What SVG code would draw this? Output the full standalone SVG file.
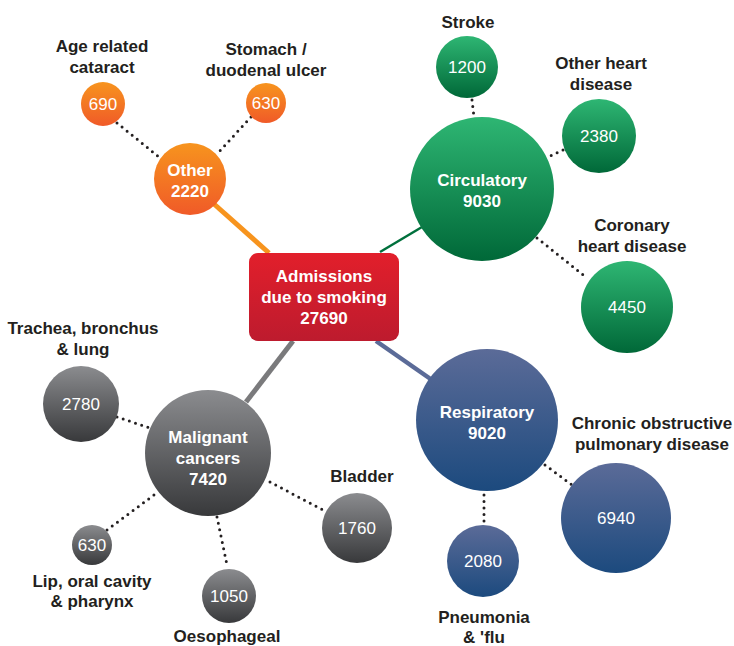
<svg xmlns="http://www.w3.org/2000/svg" width="734" height="646" viewBox="0 0 734 646">
<defs>
<linearGradient id="gOr" x1="0" y1="0" x2="0" y2="1"><stop offset="0" stop-color="#f7941e"/><stop offset="1" stop-color="#f05a28"/></linearGradient>
<linearGradient id="gGr" x1="0" y1="0" x2="0" y2="1"><stop offset="0" stop-color="#2eb673"/><stop offset="1" stop-color="#006838"/></linearGradient>
<linearGradient id="gBl" x1="0" y1="0" x2="0" y2="1"><stop offset="0" stop-color="#5b6b98"/><stop offset="1" stop-color="#1c4a7e"/></linearGradient>
<linearGradient id="gGy" x1="0" y1="0" x2="0" y2="1"><stop offset="0" stop-color="#8b8c8f"/><stop offset="1" stop-color="#38393b"/></linearGradient>
<linearGradient id="gRd" x1="0" y1="0" x2="0" y2="1"><stop offset="0" stop-color="#e21f2b"/><stop offset="1" stop-color="#bd1b2e"/></linearGradient>
</defs>
<style>
text{font-family:"Liberation Sans",Arial,sans-serif;font-size:17px;text-anchor:middle}
.lb{font-weight:bold;fill:#231f20}
.w{fill:#fff;font-weight:bold}
.n{fill:#fff}
.dot{stroke:#231f20;stroke-width:3;stroke-linecap:round;stroke-dasharray:0 6.5;fill:none}
</style>
<g id="connectors">
<line x1="269" y1="253" x2="214" y2="204" stroke="#f7941e" stroke-width="5"/>
<line x1="380" y1="252" x2="422" y2="227" stroke="#00703c" stroke-width="2.5"/>
<line x1="293" y1="341" x2="246" y2="402" stroke="#7a7a7c" stroke-width="5"/>
<line x1="376" y1="341" x2="432" y2="380" stroke="#5b6b98" stroke-width="4.5"/>
<line class="dot" x1="117" y1="123" x2="159" y2="157"/>
<line class="dot" x1="251" y1="117" x2="217" y2="154"/>
<line class="dot" x1="472" y1="100" x2="474" y2="117"/>
<line class="dot" x1="563" y1="150" x2="548" y2="157"/>
<line class="dot" x1="537" y1="238" x2="587" y2="278"/>
<line class="dot" x1="545" y1="465" x2="572" y2="485"/>
<line class="dot" x1="484" y1="495" x2="484" y2="522"/>
<line class="dot" x1="117" y1="417" x2="150" y2="428"/>
<line class="dot" x1="270" y1="482" x2="323" y2="510"/>
<line class="dot" x1="107" y1="530" x2="158" y2="492"/>
<line class="dot" x1="217" y1="517" x2="227" y2="565"/>
</g>
<g id="center">
<rect x="249" y="253" width="150" height="88" rx="9" fill="url(#gRd)"/>
<text class="w" x="324" y="282">Admissions</text>
<text class="w" x="324" y="303">due to smoking</text>
<text class="w" x="324" y="324">27690</text>
</g>
<g id="other">
<circle cx="190" cy="179" r="36" fill="url(#gOr)"/>
<text class="w" x="190" y="176">Other</text>
<text class="w" x="190" y="197">2220</text>
</g>
<g id="cataract">
<circle cx="103" cy="104" r="22" fill="url(#gOr)"/>
<text class="n" x="103" y="110">690</text>
<text class="lb" x="102" y="52">Age related</text>
<text class="lb" x="102" y="73">cataract</text>
</g>
<g id="ulcer">
<circle cx="266" cy="103" r="20" fill="url(#gOr)"/>
<text class="n" x="266" y="109">630</text>
<text class="lb" x="266" y="55">Stomach /</text>
<text class="lb" x="266" y="76">duodenal ulcer</text>
</g>
<g id="circulatory">
<circle cx="482" cy="189" r="72" fill="url(#gGr)"/>
<text class="w" x="482" y="186">Circulatory</text>
<text class="w" x="482" y="207">9030</text>
</g>
<g id="stroke">
<circle cx="467" cy="67" r="31" fill="url(#gGr)"/>
<text class="n" x="467" y="73">1200</text>
<text class="lb" x="468" y="28">Stroke</text>
</g>
<g id="otherheart">
<circle cx="599" cy="136" r="37" fill="url(#gGr)"/>
<text class="n" x="599" y="142">2380</text>
<text class="lb" x="601" y="69">Other heart</text>
<text class="lb" x="601" y="90">disease</text>
</g>
<g id="coronary">
<circle cx="627" cy="307" r="46" fill="url(#gGr)"/>
<text class="n" x="627" y="313">4450</text>
<text class="lb" x="632" y="231">Coronary</text>
<text class="lb" x="632" y="252">heart disease</text>
</g>
<g id="respiratory">
<circle cx="487" cy="420" r="71" fill="url(#gBl)"/>
<text class="w" x="487" y="418">Respiratory</text>
<text class="w" x="487" y="439">9020</text>
</g>
<g id="copd">
<circle cx="616" cy="518" r="55" fill="url(#gBl)"/>
<text class="n" x="616" y="524">6940</text>
<text class="lb" x="652" y="429">Chronic obstructive</text>
<text class="lb" x="652" y="450">pulmonary disease</text>
</g>
<g id="pneumonia">
<circle cx="483" cy="561" r="36" fill="url(#gBl)"/>
<text class="n" x="483" y="567">2080</text>
<text class="lb" x="484" y="623">Pneumonia</text>
<text class="lb" x="484" y="643">&amp; 'flu</text>
</g>
<g id="malignant">
<circle cx="208" cy="453" r="63" fill="url(#gGy)"/>
<text class="w" x="208" y="443">Malignant</text>
<text class="w" x="208" y="464">cancers</text>
<text class="w" x="208" y="485">7420</text>
</g>
<g id="trachea">
<circle cx="81" cy="404" r="38" fill="url(#gGy)"/>
<text class="n" x="81" y="410">2780</text>
<text class="lb" x="83" y="334">Trachea, bronchus</text>
<text class="lb" x="83" y="355">&amp; lung</text>
</g>
<g id="bladder">
<circle cx="357" cy="528" r="35" fill="url(#gGy)"/>
<text class="n" x="357" y="534">1760</text>
<text class="lb" x="362" y="482">Bladder</text>
</g>
<g id="lip">
<circle cx="92" cy="545" r="20" fill="url(#gGy)"/>
<text class="n" x="92" y="551">630</text>
<text class="lb" x="92" y="587">Lip, oral cavity</text>
<text class="lb" x="92" y="607">&amp; pharynx</text>
</g>
<g id="oesophageal">
<circle cx="229" cy="596" r="27" fill="url(#gGy)"/>
<text class="n" x="229" y="602">1050</text>
<text class="lb" x="227" y="642">Oesophageal</text>
</g>
</svg>
